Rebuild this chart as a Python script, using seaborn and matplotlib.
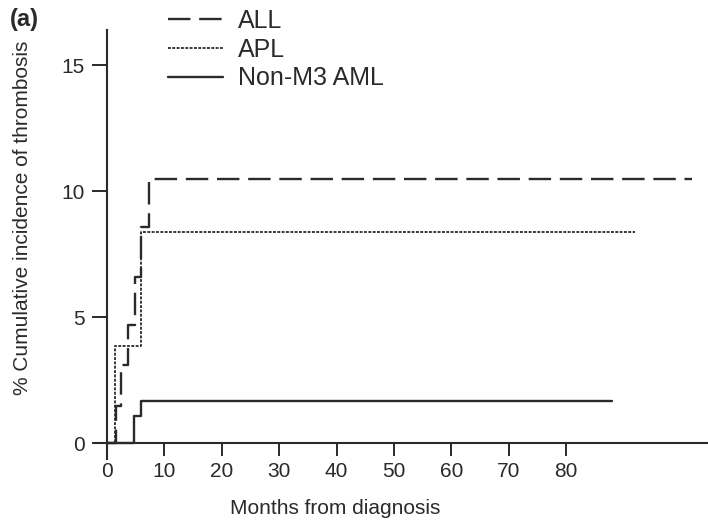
import matplotlib
matplotlib.use("Agg")
import matplotlib.pyplot as plt
import seaborn as sns
import numpy as np
import pandas as pd

# ---- data ----
all_months = [0, 1.6, 2.5, 3.7, 4.9, 5.9, 7.3, 102.0]
all_pct = [0, 1.5, 3.1, 4.7, 6.6, 8.6, 10.5, 10.5]

apl_months = [0, 1.4, 6.0, 92.0]
apl_pct = [0, 3.85, 8.4, 8.4]

aml_months = [0, 4.7, 5.9, 88.0]
aml_pct = [0, 1.08, 1.70, 1.70]

series_names = ["ALL", "APL", "Non-M3 AML"]
x_ticks = [0, 10, 20, 30, 40, 50, 60, 70, 80]
y_ticks = [0, 5, 10, 15]

sns.set_theme(style="ticks")
plt.rcParams["font.family"] = ["Liberation Sans", "DejaVu Sans"]

ink = "#2a2a2a"
fig = plt.figure(figsize=(7.08, 5.24), dpi=100)
ax = fig.add_axes([0.134, 0.1248, 0.866, 0.8176])

sns.lineplot(x=all_months, y=all_pct, ax=ax, drawstyle="steps-post",
             color=ink, linewidth=1.7, linestyle=(0, (9.5, 3.7)),
             label=series_names[0], sort=False)
sns.lineplot(x=apl_months, y=apl_pct, ax=ax, drawstyle="steps-post",
             color=ink, linewidth=1.3, linestyle=(0, (1.6, 0.8)),
             label=series_names[1], sort=False)
sns.lineplot(x=aml_months, y=aml_pct, ax=ax, drawstyle="steps-post",
             color=ink, linewidth=1.7, linestyle="-",
             label=series_names[2], sort=False)

ax.set_xlim(-2.1, 104.7)
ax.set_ylim(-0.6, 16.4)
ax.set_xticks(x_ticks)
ax.set_yticks(y_ticks)
ax.spines["left"].set_position(("data", 0))
ax.spines["bottom"].set_position(("data", 0))
ax.spines["top"].set_visible(False)
ax.spines["right"].set_visible(False)
for s in ("left", "bottom"):
    ax.spines[s].set_color(ink)
    ax.spines[s].set_linewidth(1.5)
ax.tick_params(axis="both", direction="out", width=1.4, colors=ink,
               labelsize=15)
ax.tick_params(axis="y", length=11, pad=5)
ax.tick_params(axis="x", length=9, pad=4)
ax.set_xlabel("Months from diagnosis", fontsize=15, color=ink)
ax.set_ylabel("% Cumulative incidence of thrombosis", fontsize=15, color=ink)
ax.yaxis.set_label_coords(0.045, 0.584, transform=fig.transFigure)
ax.xaxis.set_label_coords(0.473, 0.048, transform=fig.transFigure)

ax.get_legend().remove()
handles, labels = ax.get_legend_handles_labels()
fig.legend(handles, labels, loc="upper left", bbox_to_anchor=(0.2373, 0.983),
           frameon=False, fontsize=18, handlelength=2.2, handletextpad=0.6,
           labelspacing=0.19, labelcolor=ink, borderaxespad=0, borderpad=0)

fig.text(0.014, 0.962, "(a)", fontsize=17, fontweight="bold", color=ink,
         va="center", ha="left")

fig.savefig("out.png", dpi=100)
